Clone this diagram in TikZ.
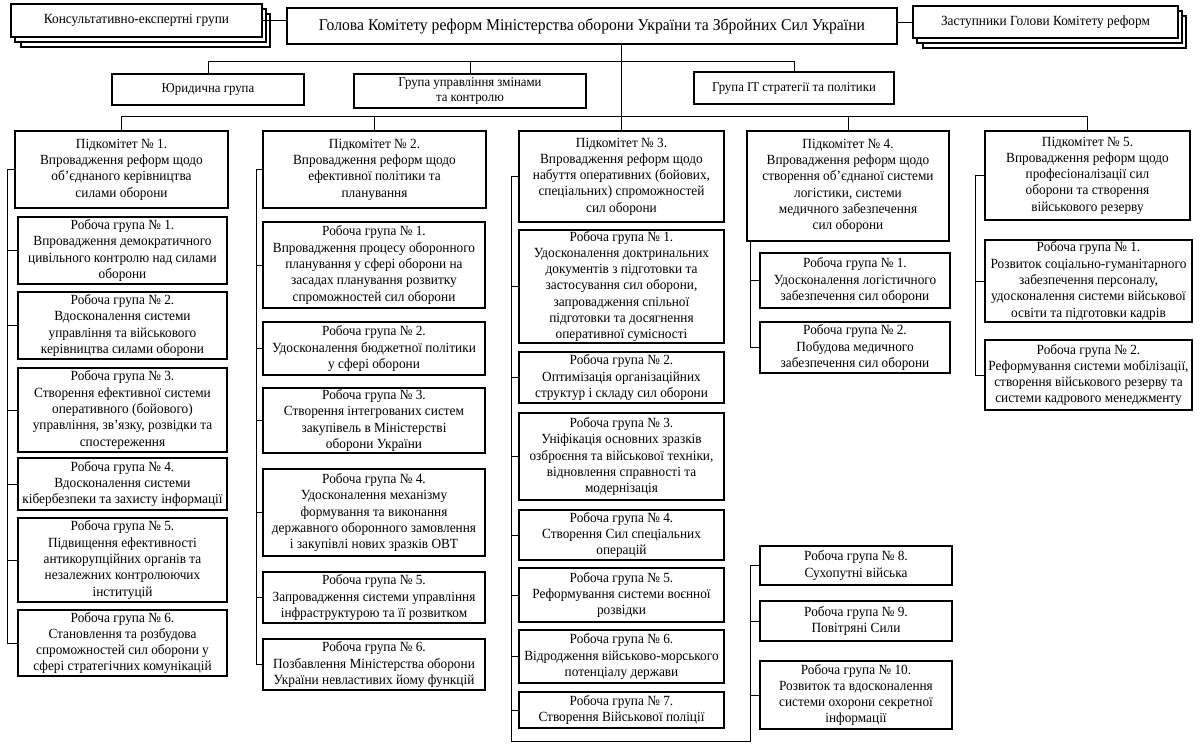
\documentclass[tikz,border=0pt]{standalone}
\usepackage{fontspec}
\setmainfont{Liberation Serif}[FakeStretch=0.95]
\newcommand\orgbox[7][]{%
  \pgfmathsetmacro\obw{#5-#3}%
  \pgfmathsetmacro\obh{#6-#4}%
  \pgfmathsetmacro\obx{(#3+#5)/2}%
  \pgfmathsetmacro\oby{(#4+#6)/2}%
  \node[box,minimum width=\obw pt,minimum height=\obh pt,#1] (#2) at (\obx,\oby) {#7};}
\begin{document}
\begin{tikzpicture}[x=1pt,y=-1pt,
  box/.style={draw=black,line width=1.1pt,fill=white,inner sep=0pt,align=center,
    font=\fontsize{14}{16.3}\selectfont},
  small/.style={font=\fontsize{13.5}{15.5}\selectfont},
  side/.style={font=\fontsize{14}{16}\selectfont},
  ln/.style={draw=black,line width=0.8pt}]
\fill[white] (0,0) rectangle (1200,746);
\useasboundingbox (0,0) rectangle (1200,746);

% ---------- top row ----------
\orgbox{consultC}{21}{14}{270}{47}{}
\orgbox{consultB}{15}{9}{266}{42}{}
\orgbox[side]{consult}{11}{4}{262}{37}{Консультативно-експертні групи}
\orgbox[font=\fontsize{16.5}{19}\selectfont]{head}{287}{8}{897}{44}{Голова Комітету реформ Міністерства оборони України та Збройних Сил України}
\orgbox{depC}{923}{16}{1186}{48}{}
\orgbox{depB}{917}{11}{1182}{43}{}
\orgbox[side]{dep}{913}{6}{1178}{38}{Заступники Голови Комітету реформ}

\orgbox[small]{yur}{112}{74}{304}{105}{Юридична група}
\orgbox[small]{upr}{354}{74}{586}{108}{Група управління змінами\\та контролю}
\orgbox[small]{it}{694}{72}{894}{104}{Група ІТ стратегії та політики}

% ---------- subcommittees ----------
\orgbox{sub1}{15}{131}{228}{208}{Підкомітет № 1.\\Впровадження реформ щодо\\об’єднаного керівництва\\силами оборони}
\orgbox{sub2}{263}{131}{486}{208}{Підкомітет № 2.\\Впровадження реформ щодо\\ефективної політики та\\планування}
\orgbox{sub3}{519}{131}{724}{222}{Підкомітет № 3.\\Впровадження реформ щодо\\набуття оперативних (бойових,\\спеціальних) спроможностей\\сил оборони}
\orgbox{sub4}{747}{131}{949}{241}{Підкомітет № 4.\\Впровадження реформ щодо\\створення об’єднаної системи\\логістики, системи\\медичного забезпечення\\сил оборони}
\orgbox{sub5}{985}{131}{1190}{220}{Підкомітет № 5.\\Впровадження реформ щодо\\професіоналізації сил\\оборони та створення\\військового резерву}

% ---------- column 1 ----------
\orgbox{c1r1}{18}{217}{227}{284}{Робоча група № 1.\\Впровадження демократичного\\цивільного контролю над силами\\оборони}
\orgbox{c1r2}{18}{292}{227}{359}{Робоча група № 2.\\Вдосконалення системи\\управління та військового\\керівництва силами оборони}
\orgbox{c1r3}{18}{368}{227}{452}{Робоча група № 3.\\Створення ефективної системи\\оперативного (бойового)\\управління, зв’язку, розвідки та\\спостереження}
\orgbox{c1r4}{18}{458}{227}{510}{Робоча група № 4.\\Вдосконалення системи\\кібербезпеки та захисту інформації}
\orgbox{c1r5}{18}{518}{227}{602}{Робоча група № 5.\\Підвищення ефективності\\антикорупційних органів та\\незалежних контролюючих\\інституцій}
\orgbox{c1r6}{18}{610}{227}{676}{Робоча група № 6.\\Становлення та розбудова\\спроможностей сил оборони у\\сфері стратегічних комунікацій}

% ---------- column 2 ----------
\orgbox{c2r1}{263}{222}{485}{308}{Робоча група № 1.\\Впровадження процесу оборонного\\планування у сфері оборони на\\засадах планування розвитку\\спроможностей сил оборони}
\orgbox{c2r2}{263}{322}{485}{375}{Робоча група № 2.\\Удосконалення бюджетної політики\\у сфері оборони}
\orgbox{c2r3}{263}{388}{485}{453}{Робоча група № 3.\\Створення інтегрованих систем\\закупівель в Міністерстві\\оборони України}
\orgbox{c2r4}{263}{469}{485}{556}{Робоча група № 4.\\Удосконалення механізму\\формування та виконання\\державного оборонного замовлення\\і закупівлі нових зразків ОВТ}
\orgbox{c2r5}{263}{572}{485}{623}{Робоча група № 5.\\Запровадження системи управління\\інфраструктурою та її розвитком}
\orgbox{c2r6}{263}{639}{485}{690}{Робоча група № 6.\\Позбавлення Міністерства оборони\\України невластивих йому функцій}

% ---------- column 3 ----------
\orgbox{c3r1}{519}{230}{724}{343}{Робоча група № 1.\\Удосконалення доктринальних\\документів з підготовки та\\застосування сил оборони,\\запровадження спільної\\підготовки та досягнення\\оперативної сумісності}
\orgbox{c3r2}{519}{352}{724}{403}{Робоча група № 2.\\Оптимізація організаційних\\структур і складу сил оборони}
\orgbox{c3r3}{519}{413}{724}{500}{Робоча група № 3.\\Уніфікація основних зразків\\озброєння та військової техніки,\\відновлення справності та\\модернізація}
\orgbox{c3r4}{519}{510}{724}{560}{Робоча група № 4.\\Створення Сил спеціальних\\операцій}
\orgbox{c3r5}{519}{568}{724}{622}{Робоча група № 5.\\Реформування системи воєнної\\розвідки}
\orgbox{c3r6}{519}{630}{724}{683}{Робоча група № 6.\\Відродження військово-морського\\потенціалу держави}
\orgbox{c3r7}{519}{692}{724}{728}{Робоча група № 7.\\Створення Військової поліції}

% ---------- column 4 ----------
\orgbox{c4r1}{760}{253}{950}{308}{Робоча група № 1.\\Удосконалення логістичного\\забезпечення сил оборони}
\orgbox{c4r2}{760}{322}{950}{373}{Робоча група № 2.\\Побудова медичного\\забезпечення сил оборони}
\orgbox{c4r8}{760}{546}{952}{585}{Робоча група № 8.\\Сухопутні війська}
\orgbox{c4r9}{760}{601}{952}{641}{Робоча група № 9.\\Повітряні Сили}
\orgbox{c4r10}{760}{661}{952}{729}{Робоча група № 10.\\Розвиток та вдосконалення\\системи охорони секретної\\інформації}

% ---------- column 5 ----------
\orgbox{c5r1}{985}{240}{1192}{322}{Робоча група № 1.\\Розвиток соціально-гуманітарного\\забезпечення персоналу,\\удосконалення системи військової\\освіти та підготовки кадрів}
\orgbox{c5r2}{985}{340}{1192}{410}{Робоча група № 2.\\Реформування системи мобілізації,\\створення військового резерву та\\системи кадрового менеджменту}

% ---------- connector helper coordinates ----------
\coordinate (tg) at (0,61);
\coordinate (sl) at (0,116);
\coordinate (s1) at (7,0);
\coordinate (s2) at (256,0);
\coordinate (s3) at (511,0);
\coordinate (s4) at (750,0);
\coordinate (s5) at (975,0);
\coordinate (bot) at (0,741);

% ---------- connectors ----------
\draw[ln] (consult.east) -- (consult.east -| head.west);
\draw[ln] (dep.west -| head.east) -- (dep.west);
\draw[ln] (head.south -| sub3.north) -- (sub3.north);
\draw[ln] (yur.north) -- (yur.north |- tg) -- (it.north |- tg) -- (it.north);
\draw[ln] (upr.north) -- (upr.north |- tg);
\draw[ln] (sub1.north) -- (sub1.north |- sl) -- (sub5.north |- sl) -- (sub5.north);
\draw[ln] (sub2.north) -- (sub2.north |- sl);
\draw[ln] (sub4.north) -- (sub4.north |- sl);

% column 1
\draw[ln] (sub1.west) -- (sub1.west -| s1) |- (c1r6.west);
\foreach \n in {c1r1,c1r2,c1r3,c1r4,c1r5}{\draw[ln] (\n.west) -- (\n.west -| s1);}
% column 2
\draw[ln] (sub2.west) -- (sub2.west -| s2) |- (c2r6.west);
\foreach \n in {c2r1,c2r2,c2r3,c2r4,c2r5}{\draw[ln] (\n.west) -- (\n.west -| s2);}
% column 3 and its continuation to groups 8-10
\draw[ln] (sub3.west) -- (sub3.west -| s3) -- (s3 |- bot) -- (s4 |- bot) |- (c4r8.west);
\foreach \n in {c3r1,c3r2,c3r3,c3r4,c3r5,c3r6,c3r7}{\draw[ln] (\n.west) -- (\n.west -| s3);}
\foreach \n in {c4r9,c4r10}{\draw[ln] (\n.west) -- (\n.west -| s4);}
% column 4
\draw[ln] (sub4.south -| s4) |- (c4r2.west);
\draw[ln] (c4r1.west) -- (c4r1.west -| s4);
% column 5
\draw[ln] (sub5.west) -- (sub5.west -| s5) |- (c5r2.west);
\draw[ln] (c5r1.west) -- (c5r1.west -| s5);
\end{tikzpicture}
\end{document}
